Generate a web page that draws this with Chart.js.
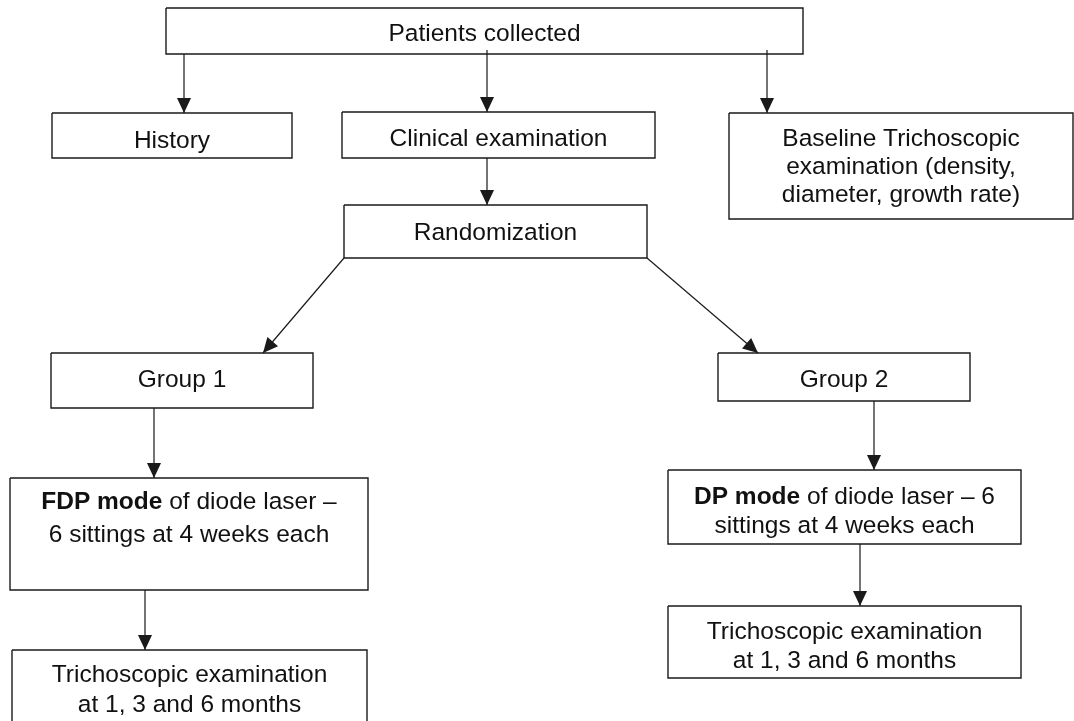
<!DOCTYPE html>
<html>
<head>
<meta charset="utf-8">
<title>Study flow</title>
<script src="https://cdn.jsdelivr.net/npm/chart.js@4.4.1/dist/chart.umd.min.js"></script>
<style>
  html, body { margin: 0; padding: 0; background: #fff; }
  #wrap { width: 1074px; height: 721px; position: relative; }
</style>
</head>
<body>
<div id="wrap"><canvas id="flow"></canvas></div>
<script>
// boxes of the flow diagram (diagram units = page pixels, y grows downward)
const nodeText = [
    ["Patients collected"],
    ["History"],
    ["Clinical examination"],
    ["Baseline Trichoscopic", "examination (density,", "diameter, growth rate)"],
    ["Randomization"],
    ["Group 1"],
    ["Group 2"],
    ["**FDP mode** of diode laser –", "6 sittings at 4 weeks each"],
    ["**DP mode** of diode laser – 6", "sittings at 4 weeks each"],
    ["Trichoscopic examination", "at 1, 3 and 6 months"],
    ["Trichoscopic examination", "at 1, 3 and 6 months"]
];
const nodeLeft   = [166,  52, 342, 729, 344,  51, 718,  10, 668,  12, 668];
const nodeTop    = [  8, 113, 112, 113, 205, 353, 353, 478, 470, 650, 606];
const nodeRight  = [803, 292, 655,1073, 647, 313, 970, 368,1021, 367,1021];
const nodeBottom = [ 54, 158, 158, 219, 258, 408, 401, 590, 544, 760, 678];
const textFirstY = [ 34, 141, 139, 139, 233, 380, 380, 502, 497, 675, 632];
const textGap    = [  0,   0,   0,  28,   0,   0,   0,  33,  29,  30,  29];

// arrows: start point -> tip
const edgeFromX = [184, 487, 767, 487, 344, 647, 154, 145, 874, 860];
const edgeFromY = [ 54,  50,  50, 158, 258, 258, 408, 590, 401, 544];
const edgeToX   = [184, 487, 767, 487, 263, 758, 154, 145, 874, 860];
const edgeToY   = [113, 112, 113, 205, 353, 353, 478, 650, 470, 606];

const ink = '#1a1a1a';
const fontSize = 24.5;
const fontFamily = '"Liberation Sans", Arial, Helvetica, sans-serif';

let datasets = [];
for (let i = 0; i < nodeText.length; i++) {
    datasets.push({
        data: [
            {x: nodeLeft[i],  y: nodeTop[i]},
            {x: nodeRight[i], y: nodeTop[i]},
            {x: nodeRight[i], y: nodeBottom[i]},
            {x: nodeLeft[i],  y: nodeBottom[i]},
            {x: nodeLeft[i],  y: nodeTop[i]}
        ],
        showLine: true,
        borderColor: ink,
        borderWidth: 1.4,
        pointRadius: 0,
        fill: false,
        tension: 0
    });
}
for (let i = 0; i < edgeFromX.length; i++) {
    datasets.push({
        data: [{x: edgeFromX[i], y: edgeFromY[i]}, {x: edgeToX[i], y: edgeToY[i]}],
        showLine: true,
        borderColor: ink,
        borderWidth: 1.2,
        pointRadius: 0,
        fill: false
    });
}

// split "**bold** normal" into parts
function parseLine(line) {
    let parts = [];
    line.split("**").forEach(function(piece, idx) {
        if (piece.length) parts.push({text: piece, bold: idx % 2 === 1});
    });
    return parts;
}

const flowPlugin = {
    id: 'flowDecor',
    afterDatasetsDraw(chart) {
        const ctx = chart.ctx;
        const xs = chart.scales.x, ys = chart.scales.y;

        // arrow heads
        ctx.save();
        ctx.fillStyle = ink;
        for (let i = 0; i < edgeFromX.length; i++) {
            const x0 = xs.getPixelForValue(edgeFromX[i]), y0 = ys.getPixelForValue(edgeFromY[i]);
            const x1 = xs.getPixelForValue(edgeToX[i]),   y1 = ys.getPixelForValue(edgeToY[i]);
            const a = Math.atan2(y1 - y0, x1 - x0);
            const len = 15, half = 7;
            ctx.beginPath();
            ctx.moveTo(x1, y1);
            ctx.lineTo(x1 - len * Math.cos(a) + half * Math.sin(a), y1 - len * Math.sin(a) - half * Math.cos(a));
            ctx.lineTo(x1 - len * Math.cos(a) - half * Math.sin(a), y1 - len * Math.sin(a) + half * Math.cos(a));
            ctx.closePath();
            ctx.fill();
        }
        ctx.restore();

        // box texts
        ctx.save();
        ctx.fillStyle = '#111';
        ctx.textBaseline = 'middle';
        ctx.textAlign = 'left';
        for (let i = 0; i < nodeText.length; i++) {
            const cx = xs.getPixelForValue((nodeLeft[i] + nodeRight[i]) / 2);
            nodeText[i].forEach(function(line, j) {
                const y = ys.getPixelForValue(textFirstY[i] + j * textGap[i]);
                const parts = parseLine(line);
                let total = 0;
                parts.forEach(function(p) {
                    ctx.font = (p.bold ? 'bold ' : '') + fontSize + 'px ' + fontFamily;
                    p.w = ctx.measureText(p.text).width;
                    total += p.w;
                });
                let x = cx - total / 2;
                parts.forEach(function(p) {
                    ctx.font = (p.bold ? 'bold ' : '') + fontSize + 'px ' + fontFamily;
                    ctx.fillText(p.text, x, y);
                    x += p.w;
                });
            });
        }
        ctx.restore();
    }
};

new Chart(document.getElementById('flow'), {
    type: 'scatter',
    data: { datasets: datasets },
    options: {
        responsive: true,
        maintainAspectRatio: false,
        animation: false,
        events: [],
        layout: { padding: 0 },
        plugins: {
            legend: { display: false },
            tooltip: { enabled: false }
        },
        scales: {
            x: { type: 'linear', min: 0, max: 1074, display: false },
            y: { type: 'linear', min: 0, max: 721, reverse: true, display: false }
        }
    },
    plugins: [flowPlugin]
});
</script>
</body>
</html>
